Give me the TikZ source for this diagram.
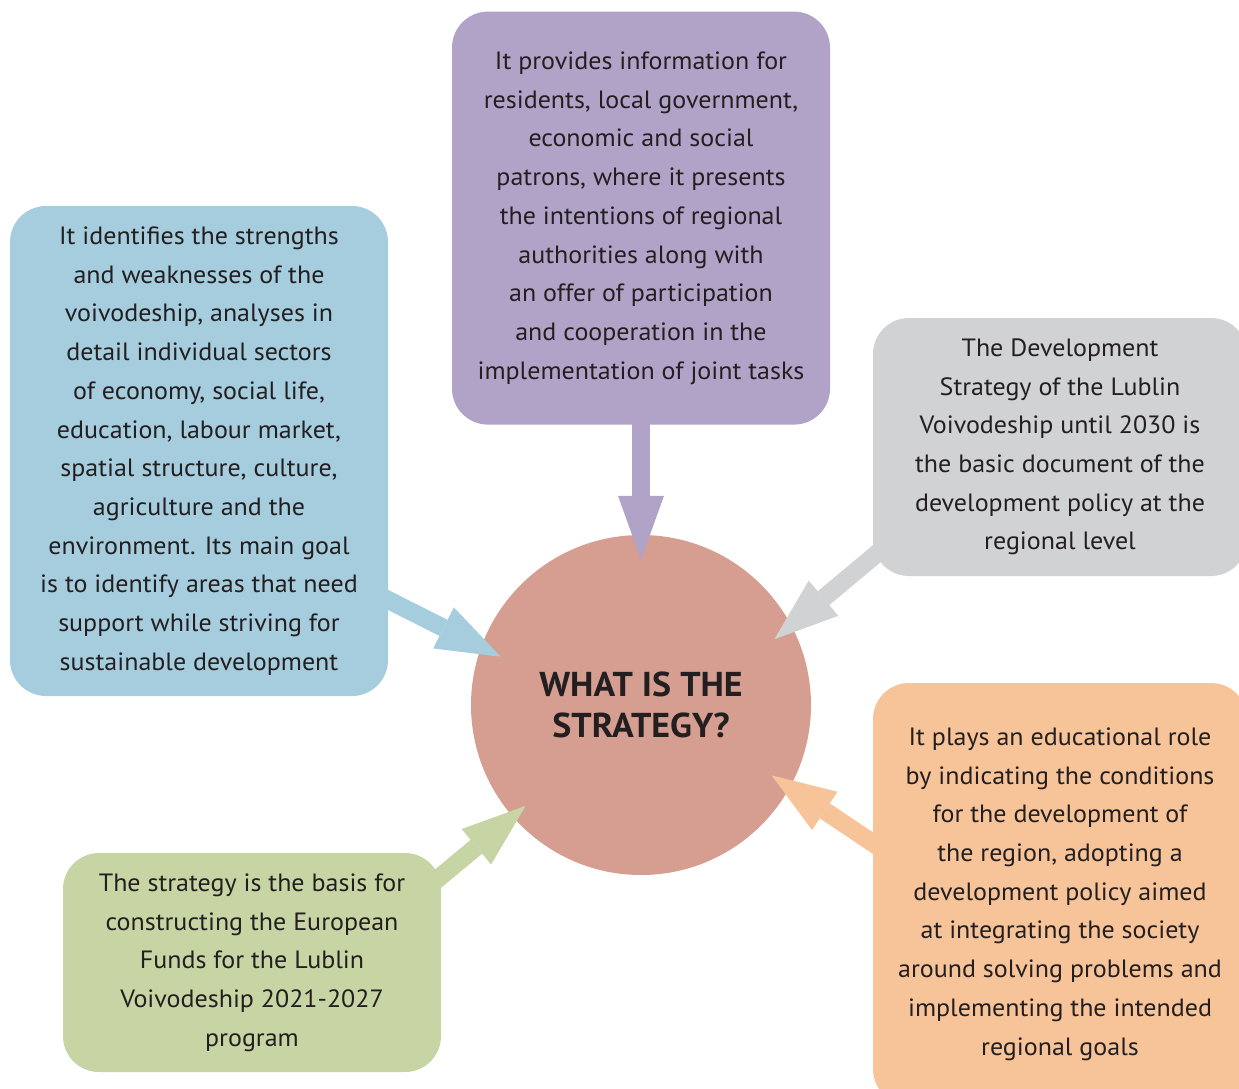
\documentclass[tikz,border=0pt]{standalone}
\usepackage{fontspec}
\setmainfont{PT Sans}[FakeStretch=1.04]
\usepackage{xcolor}
\usetikzlibrary{arrows.meta, positioning}

\definecolor{bluebox}{HTML}{A5CDDE}
\definecolor{purplebox}{HTML}{B1A3C8}
\definecolor{graybox}{HTML}{D1D2D4}
\definecolor{orangebox}{HTML}{F7C398}
\definecolor{greenbox}{HTML}{C7D5A4}
\definecolor{circlefill}{HTML}{D69E90}
\definecolor{inktext}{HTML}{231F20}

\begin{document}
\begin{tikzpicture}[x=1pt, y=-1pt,
    box/.style={rectangle, rounded corners=36pt, minimum width=378pt, align=center, text=inktext, font={\fontsize{25pt}{38.7pt}\selectfont}},
    pointer/.style={line width=18pt, shorten <=-12pt, -{Triangle[length=64pt, width=46pt, line width=0pt]}}]
    \useasboundingbox (0,0) rectangle (1239,1088);
    \node[circle, fill=circlefill, minimum size=340pt, inner sep=0pt, align=center, text=inktext, font={\fontsize{34.5pt}{41pt}\selectfont\bfseries}] (circ) at (641,705) {WHAT IS THE\\STRATEGY?};
    \node[box, fill=purplebox, minimum height=413pt, above=110pt of circ] (purple) {It provides information for\\residents, local government,\\economic and social\\patrons, where it presents\\the intentions of regional\\authorities along with\\an offer of participation\\and cooperation in the\\implementation of joint tasks};
    \node[box, fill=bluebox, minimum height=490pt] (blue) at (199,451) {It identifies the strengths\\and weaknesses of the\\voivodeship, analyses in\\detail individual sectors\\of economy, social life,\\education, labour market,\\spatial structure, culture,\\agriculture and the\\environment. Its main goal\\is to identify areas that need\\support while striving for\\sustainable development};
    \node[box, fill=graybox, minimum width=374pt, minimum height=258pt] (gray) at (1060,447) {The Development\\Strategy of the Lublin\\Voivodeship until 2030 is\\the basic document of the\\development policy at the\\regional level};
    \node[box, fill=orangebox, minimum width=374pt, minimum height=422pt] (orange) at (1060,894) {It plays an educational role\\by indicating the conditions\\for the development of\\the region, adopting a\\development policy aimed\\at integrating the society\\around solving problems and\\implementing the intended\\regional goals};
    \node[box, fill=greenbox, minimum height=219pt] (green) at (252,962.5) {The strategy is the basis for\\constructing the European\\Funds for the Lublin\\Voivodeship 2021-2027\\program};
    \draw[pointer, purplebox, shorten >=-25pt] (purple.south) -- (circ.north);
    \draw[pointer, bluebox, shorten >=-22pt] ([yshift=-149pt]blue.east) -- (circ.160);
    \draw[pointer, graybox, shorten >=-22pt] ([yshift=-110pt]gray.west) -- (circ.28.6);
    \draw[pointer, orangebox, shorten >=-22pt] ([yshift=51pt]orange.west) -- (circ.331.4);
    \draw[pointer, greenbox, shorten >=-17pt] ([yshift=86.5pt]green.east) -- (circ.221.8);
\end{tikzpicture}
\end{document}
